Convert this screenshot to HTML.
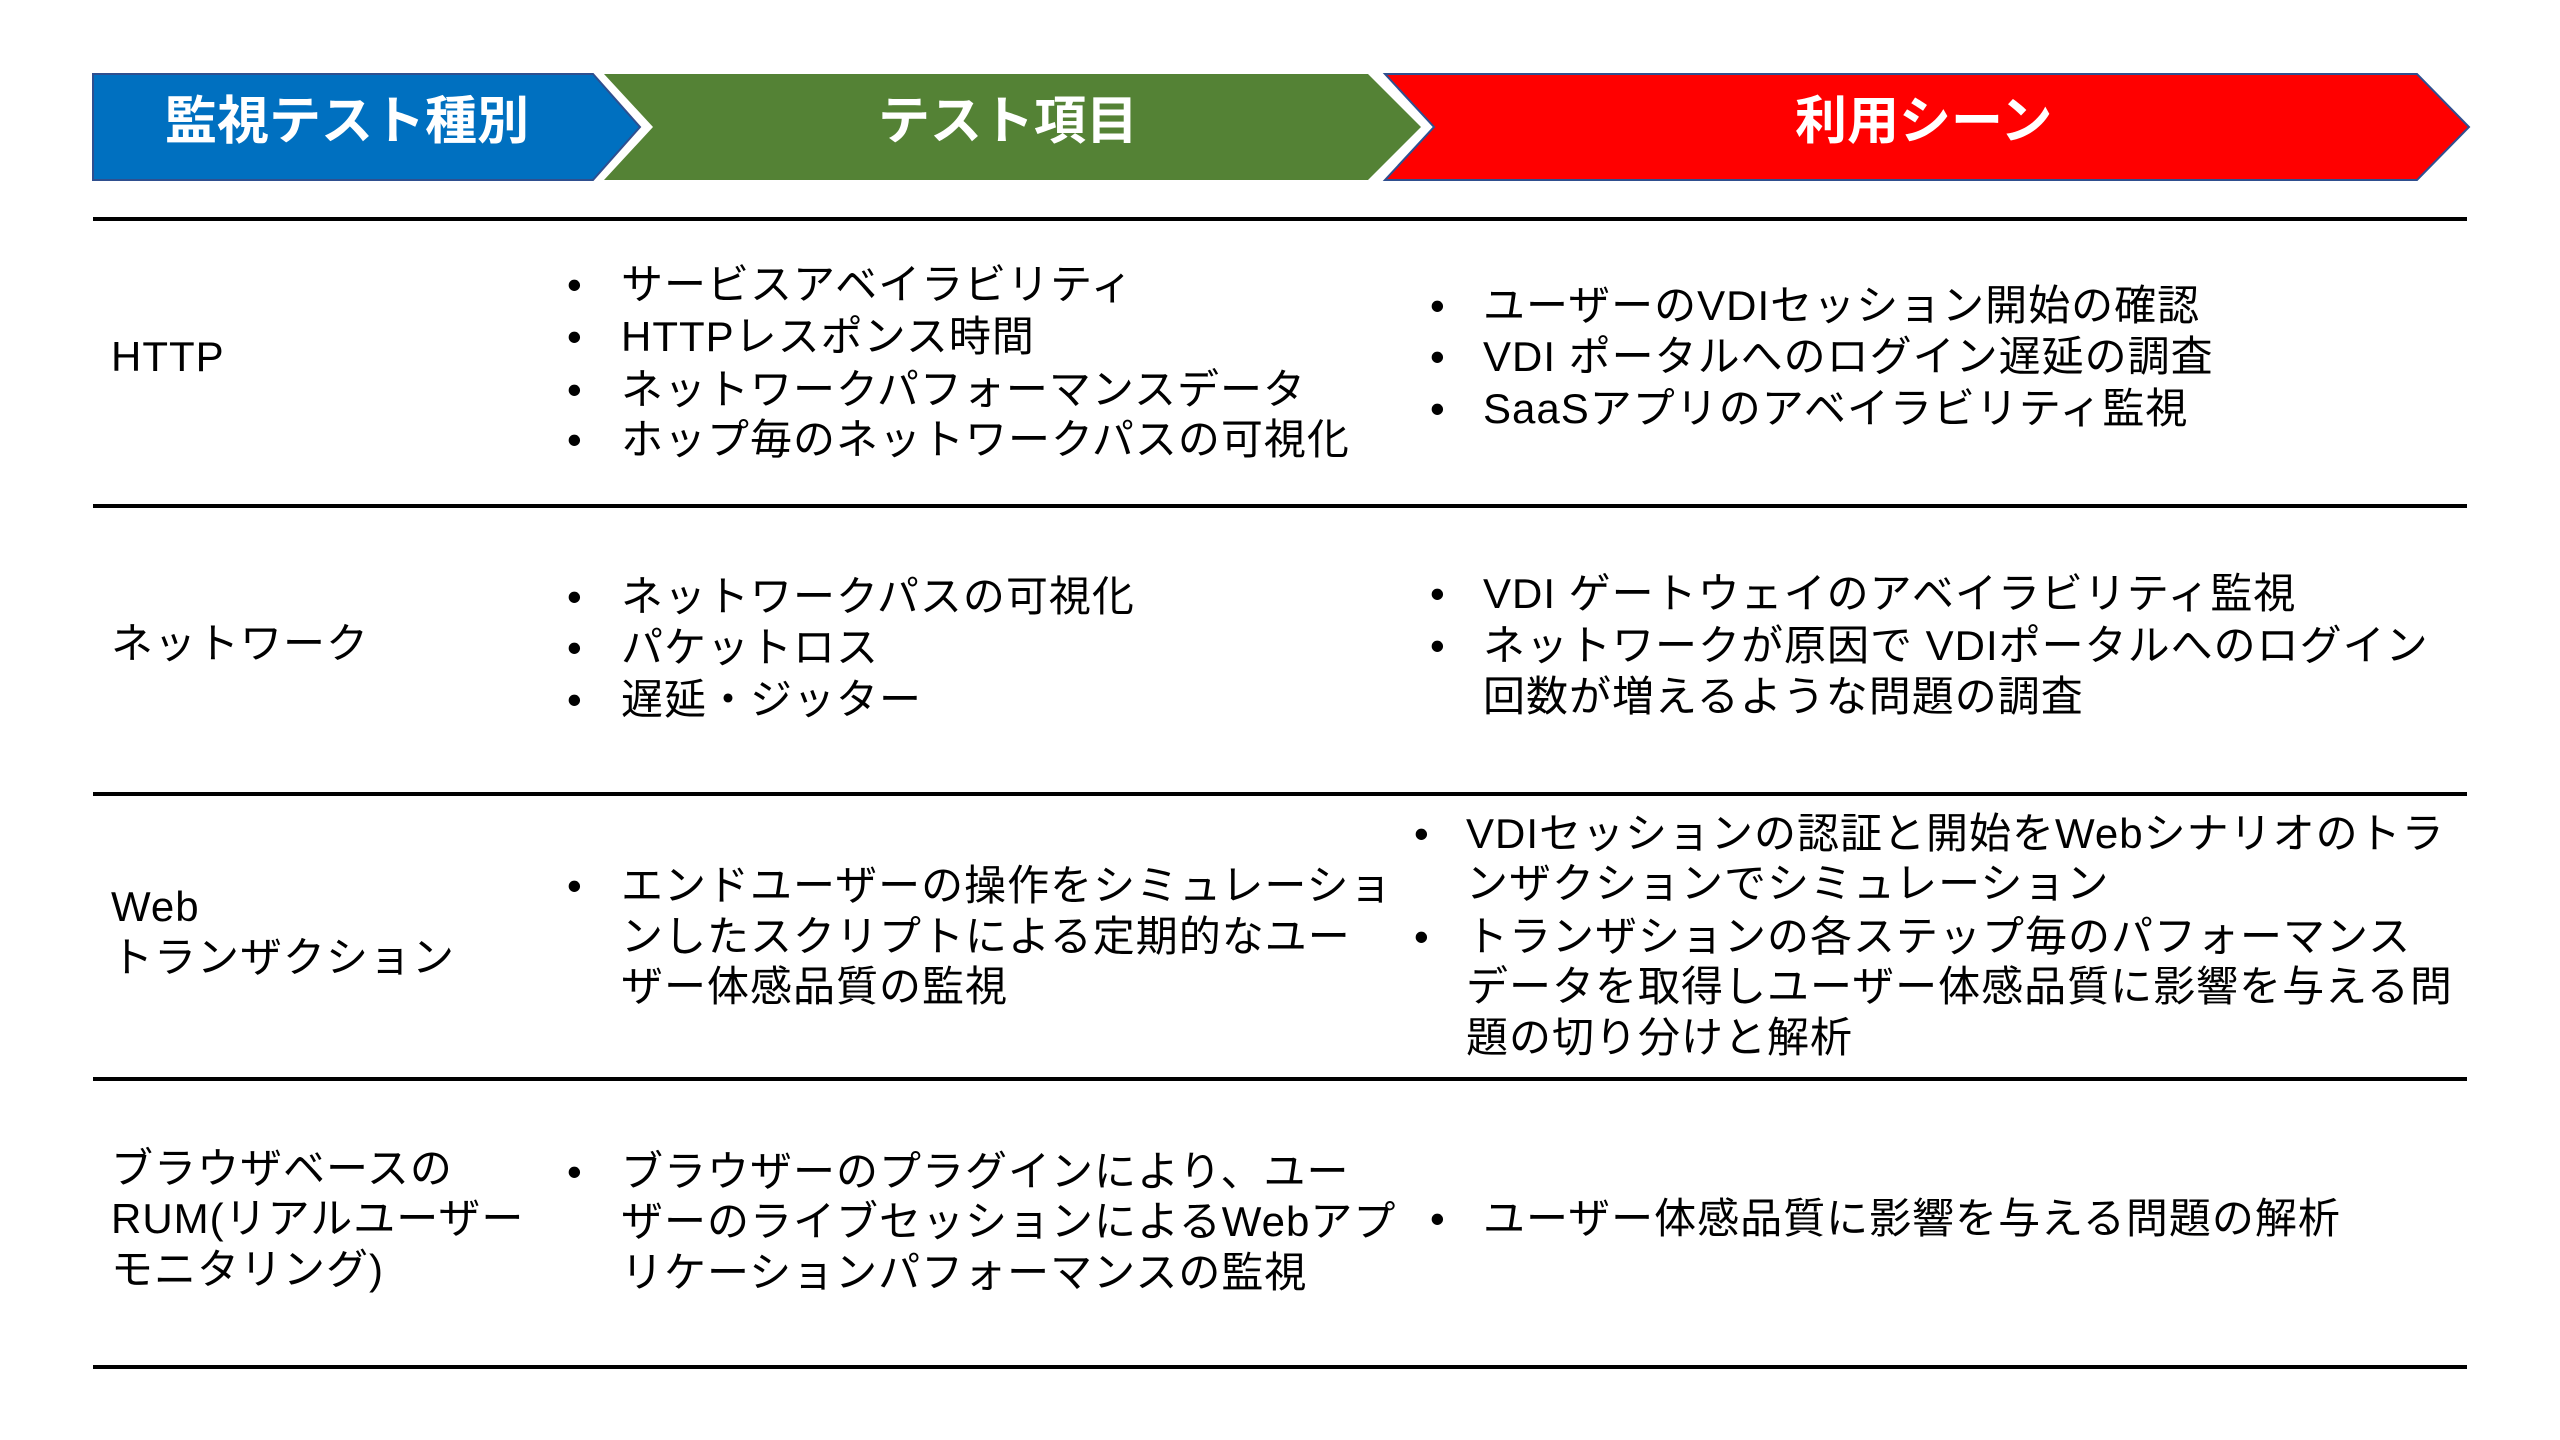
<!DOCTYPE html>
<html><head><meta charset="utf-8"><style>
body{margin:0;width:2560px;height:1440px;background:#fff;position:relative;overflow:hidden;font-family:"Liberation Sans","Noto Sans CJK JP",sans-serif;color:#000}
.t{position:absolute;font-size:42px;line-height:51px;white-space:nowrap;letter-spacing:1px}
.h{position:absolute;font-size:52px;font-weight:bold;color:#fff;line-height:60px;top:92px;white-space:nowrap}
.ln{position:absolute;left:93px;width:2374px;height:4px;background:#000}
</style></head><body>
<svg width="2560" height="200" style="position:absolute;left:0;top:0">
<polygon points="93,74 593,74 640,127 593,180 93,180" fill="#0070c0" stroke="#2f4f8f" stroke-width="2"/>
<polygon points="604,74 1368,74 1421,127 1368,180 604,180 653,127" fill="#548235"/>
<polygon points="1385,74 2417,74 2469,127 2417,180 1385,180 1434,127" fill="#ff0000" stroke="#2f4f8f" stroke-width="2"/>
</svg>
<div class="h" style="left:165px">監視テスト種別</div>
<div class="h" style="left:878px">テスト項目</div>
<div class="h" style="left:1795px">利用シーン</div>

<div class="ln" style="top:217px"></div>
<div class="ln" style="top:504px"></div>
<div class="ln" style="top:792px"></div>
<div class="ln" style="top:1077px"></div>
<div class="ln" style="top:1365px"></div>

<div class="t" style="left:111px;top:331px">HTTP</div>
<div class="t" style="left:567px;top:259px">•</div><div class="t" style="left:621px;top:259px">サービスアベイラビリティ</div>
<div class="t" style="left:567px;top:311px">•</div><div class="t" style="left:621px;top:311px">HTTPレスポンス時間</div>
<div class="t" style="left:567px;top:364px">•</div><div class="t" style="left:621px;top:364px">ネットワークパフォーマンスデータ</div>
<div class="t" style="left:567px;top:414px">•</div><div class="t" style="left:621px;top:414px">ホップ毎のネットワークパスの可視化</div>
<div class="t" style="left:1430px;top:280px">•</div><div class="t" style="left:1483px;top:280px">ユーザーのVDIセッション開始の確認</div>
<div class="t" style="left:1430px;top:331px">•</div><div class="t" style="left:1483px;top:331px">VDI ポータルへのログイン遅延の調査</div>
<div class="t" style="left:1430px;top:383px">•</div><div class="t" style="left:1483px;top:383px">SaaSアプリのアベイラビリティ監視</div>

<div class="t" style="left:111px;top:618px">ネットワーク</div>
<div class="t" style="left:567px;top:571px">•</div><div class="t" style="left:621px;top:571px">ネットワークパスの可視化</div>
<div class="t" style="left:567px;top:622px">•</div><div class="t" style="left:621px;top:622px">パケットロス</div>
<div class="t" style="left:567px;top:674px">•</div><div class="t" style="left:621px;top:674px">遅延・ジッター</div>
<div class="t" style="left:1430px;top:568px">•</div><div class="t" style="left:1483px;top:568px">VDI ゲートウェイのアベイラビリティ監視</div>
<div class="t" style="left:1430px;top:620px">•</div><div class="t" style="left:1483px;top:620px">ネットワークが原因で VDIポータルへのログイン</div>
<div class="t" style="left:1483px;top:671px">回数が増えるような問題の調査</div>

<div class="t" style="left:111px;top:881px">Web</div>
<div class="t" style="left:111px;top:932px">トランザクション</div>
<div class="t" style="left:567px;top:860px">•</div><div class="t" style="left:621px;top:860px">エンドユーザーの操作をシミュレーショ</div>
<div class="t" style="left:621px;top:911px">ンしたスクリプトによる定期的なユー</div>
<div class="t" style="left:621px;top:961px">ザー体感品質の監視</div>
<div class="t" style="left:1414px;top:808px">•</div><div class="t" style="left:1466px;top:808px">VDIセッションの認証と開始をWebシナリオのトラ</div>
<div class="t" style="left:1466px;top:858px">ンザクションでシミュレーション</div>
<div class="t" style="left:1414px;top:911px">•</div><div class="t" style="left:1466px;top:911px">トランザションの各ステップ毎のパフォーマンス</div>
<div class="t" style="left:1466px;top:961px">データを取得しユーザー体感品質に影響を与える問</div>
<div class="t" style="left:1466px;top:1012px">題の切り分けと解析</div>

<div class="t" style="left:111px;top:1143px">ブラウザベースの</div>
<div class="t" style="left:111px;top:1193px">RUM(リアルユーザー</div>
<div class="t" style="left:111px;top:1244px">モニタリング)</div>
<div class="t" style="left:567px;top:1146px">•</div><div class="t" style="left:621px;top:1146px">ブラウザーのプラグインにより、ユー</div>
<div class="t" style="left:621px;top:1196px">ザーのライブセッションによるWebアプ</div>
<div class="t" style="left:621px;top:1247px">リケーションパフォーマンスの監視</div>
<div class="t" style="left:1430px;top:1193px">•</div><div class="t" style="left:1483px;top:1193px">ユーザー体感品質に影響を与える問題の解析</div>
</body></html>
